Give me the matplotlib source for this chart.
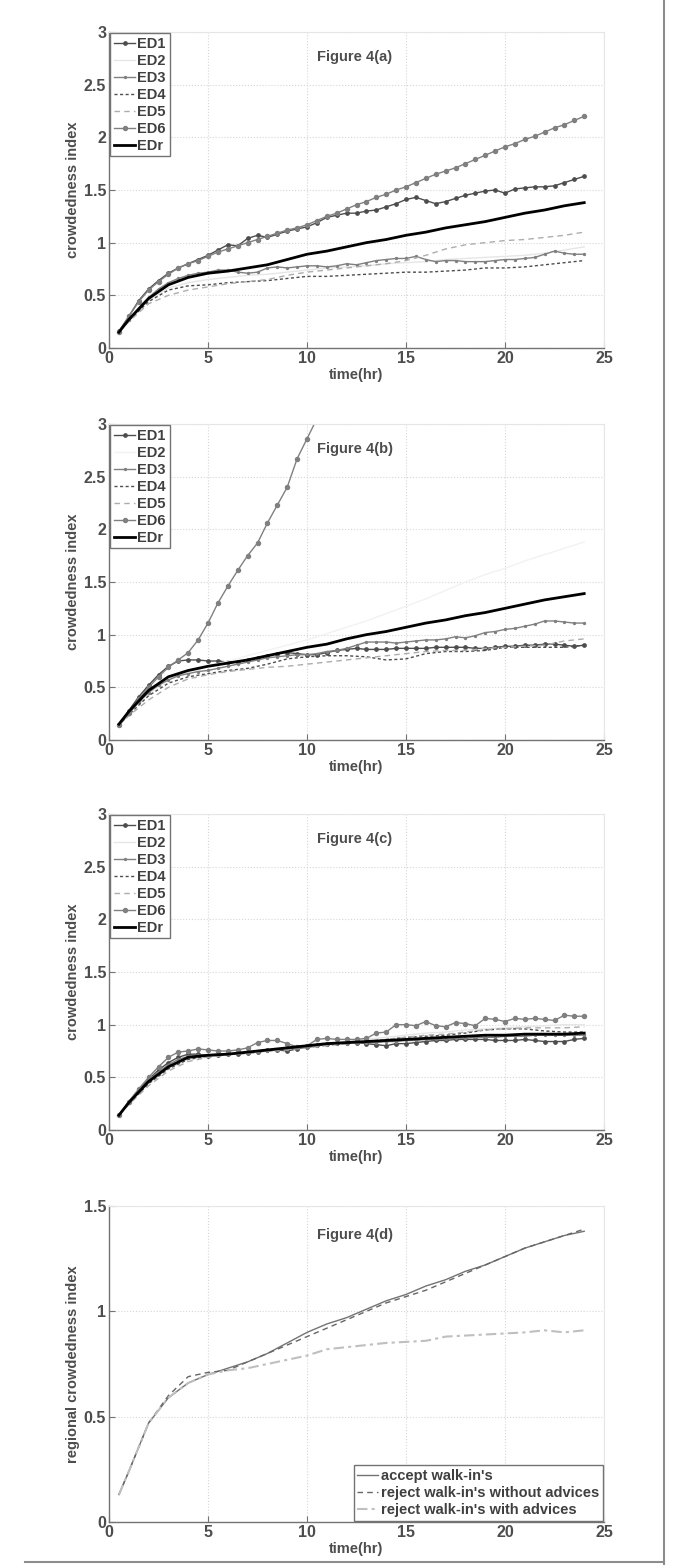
import numpy as np
import matplotlib
matplotlib.use('Agg')
import matplotlib.pyplot as plt
from matplotlib.lines import Line2D

plt.rcParams['font.family'] = ['Liberation Sans', 'DejaVu Sans']
plt.rcParams['font.weight'] = 'bold'

# ---------------- time grids ----------------
t_half = [0.5 * k for k in range(1, 49)]          # 0.5 .. 24 (48 points)
t_hour = [0.5] + list(range(1, 25))               # 0.5, 1 .. 24 (25 points)

labels_ed = ['ED1', 'ED2', 'ED3', 'ED4', 'ED5', 'ED6', 'EDr']

# ---------------- Figure 4(a) ----------------
a_ed1 = [0.16, 0.30, 0.45, 0.56, 0.64, 0.71, 0.76, 0.80, 0.84, 0.88, 0.93, 0.98,
         0.97, 1.04, 1.07, 1.05, 1.08, 1.11, 1.13, 1.15, 1.19, 1.24, 1.26, 1.28,
         1.28, 1.30, 1.31, 1.34, 1.37, 1.41, 1.43, 1.40, 1.37, 1.39, 1.42, 1.45,
         1.47, 1.49, 1.50, 1.47, 1.51, 1.52, 1.53, 1.53, 1.54, 1.57, 1.60, 1.63]
a_ed3 = [0.15, 0.27, 0.38, 0.48, 0.56, 0.62, 0.66, 0.69, 0.71, 0.72, 0.74, 0.74,
         0.72, 0.71, 0.72, 0.76, 0.77, 0.76, 0.77, 0.78, 0.78, 0.77, 0.78, 0.80,
         0.79, 0.81, 0.83, 0.84, 0.85, 0.85, 0.87, 0.84, 0.82, 0.83, 0.83, 0.82,
         0.82, 0.82, 0.83, 0.84, 0.84, 0.85, 0.86, 0.89, 0.92, 0.90, 0.89, 0.89]
a_ed6 = [0.15, 0.30, 0.44, 0.55, 0.63, 0.70, 0.76, 0.80, 0.83, 0.87, 0.91, 0.94,
         0.97, 1.00, 1.03, 1.06, 1.09, 1.12, 1.14, 1.17, 1.21, 1.25, 1.28, 1.32,
         1.36, 1.39, 1.43, 1.46, 1.50, 1.53, 1.57, 1.61, 1.65, 1.68, 1.71, 1.75,
         1.79, 1.83, 1.87, 1.91, 1.94, 1.98, 2.01, 2.05, 2.09, 2.12, 2.16, 2.20]
a_ed2 = [0.15, 0.26, 0.45, 0.57, 0.62, 0.65, 0.67, 0.69, 0.70, 0.72, 0.74, 0.76,
         0.77, 0.78, 0.80, 0.81, 0.82, 0.84, 0.85, 0.86, 0.87, 0.88, 0.90, 0.93, 0.96]
a_ed4 = [0.15, 0.26, 0.44, 0.55, 0.59, 0.60, 0.62, 0.63, 0.64, 0.66, 0.68, 0.68,
         0.69, 0.70, 0.71, 0.72, 0.72, 0.73, 0.74, 0.76, 0.76, 0.77, 0.79, 0.81, 0.83]
a_ed5 = [0.15, 0.25, 0.42, 0.50, 0.55, 0.58, 0.61, 0.63, 0.65, 0.69, 0.72, 0.74,
         0.76, 0.78, 0.80, 0.83, 0.88, 0.94, 0.98, 1.00, 1.02, 1.03, 1.05, 1.07, 1.10]
a_edr = [0.15, 0.27, 0.47, 0.60, 0.67, 0.71, 0.73, 0.76, 0.79, 0.84, 0.89, 0.92,
         0.96, 1.00, 1.03, 1.07, 1.10, 1.14, 1.17, 1.20, 1.24, 1.28, 1.31, 1.35, 1.38]

# ---------------- Figure 4(b) ----------------
b_ed1 = [0.14, 0.28, 0.41, 0.52, 0.62, 0.70, 0.75, 0.76, 0.76, 0.75, 0.75, 0.74,
         0.74, 0.76, 0.78, 0.80, 0.82, 0.83, 0.82, 0.81, 0.81, 0.83, 0.85, 0.86,
         0.87, 0.86, 0.86, 0.86, 0.87, 0.87, 0.87, 0.87, 0.88, 0.88, 0.88, 0.88,
         0.87, 0.87, 0.88, 0.89, 0.89, 0.90, 0.90, 0.91, 0.91, 0.90, 0.89, 0.90]
b_ed3 = [0.14, 0.25, 0.36, 0.45, 0.52, 0.57, 0.61, 0.63, 0.65, 0.66, 0.68, 0.70,
         0.72, 0.74, 0.76, 0.78, 0.79, 0.80, 0.81, 0.81, 0.82, 0.84, 0.85, 0.87,
         0.90, 0.93, 0.93, 0.93, 0.92, 0.93, 0.94, 0.95, 0.95, 0.96, 0.98, 0.97,
         0.99, 1.02, 1.03, 1.05, 1.06, 1.08, 1.10, 1.13, 1.13, 1.12, 1.11, 1.11]
b_ed6 = [0.14, 0.26, 0.39, 0.50, 0.60, 0.69, 0.76, 0.83, 0.95, 1.11, 1.30, 1.46,
         1.61, 1.75, 1.87, 2.06, 2.23, 2.40, 2.67, 2.86, 3.05] + [np.nan] * 27
b_ed2 = [0.14, 0.25, 0.43, 0.57, 0.64, 0.70, 0.75, 0.80, 0.85, 0.90, 0.95, 1.01,
         1.07, 1.13, 1.20, 1.27, 1.34, 1.42, 1.50, 1.57, 1.63, 1.70, 1.76, 1.82, 1.88]
b_ed4 = [0.14, 0.24, 0.42, 0.54, 0.60, 0.63, 0.66, 0.68, 0.72, 0.77, 0.79, 0.80,
         0.80, 0.79, 0.76, 0.77, 0.82, 0.84, 0.84, 0.85, 0.88, 0.88, 0.88, 0.88, 0.90]
b_ed5 = [0.14, 0.23, 0.38, 0.50, 0.58, 0.62, 0.65, 0.67, 0.69, 0.70, 0.72, 0.74,
         0.76, 0.78, 0.80, 0.82, 0.84, 0.85, 0.85, 0.87, 0.88, 0.89, 0.90, 0.94, 0.96]
b_edr = [0.15, 0.27, 0.47, 0.60, 0.66, 0.70, 0.73, 0.76, 0.80, 0.84, 0.88, 0.91,
         0.96, 1.00, 1.03, 1.07, 1.11, 1.14, 1.18, 1.21, 1.25, 1.29, 1.33, 1.36, 1.39]

# ---------------- Figure 4(c) ----------------
c_ed1 = [0.14, 0.27, 0.38, 0.48, 0.57, 0.64, 0.69, 0.72, 0.72, 0.70, 0.71, 0.72,
         0.72, 0.73, 0.74, 0.76, 0.76, 0.75, 0.77, 0.79, 0.81, 0.82, 0.83, 0.83,
         0.83, 0.82, 0.81, 0.80, 0.82, 0.82, 0.83, 0.84, 0.85, 0.85, 0.86, 0.86,
         0.86, 0.86, 0.85, 0.85, 0.85, 0.86, 0.85, 0.84, 0.84, 0.84, 0.86, 0.87]
c_ed3 = [0.14, 0.26, 0.37, 0.47, 0.55, 0.62, 0.67, 0.70, 0.71, 0.71, 0.72, 0.72,
         0.73, 0.73, 0.74, 0.75, 0.76, 0.77, 0.78, 0.78, 0.80, 0.81, 0.82, 0.82,
         0.83, 0.83, 0.83, 0.84, 0.84, 0.85, 0.85, 0.86, 0.86, 0.86, 0.87, 0.87,
         0.88, 0.88, 0.88, 0.89, 0.89, 0.89, 0.90, 0.90, 0.90, 0.90, 0.90, 0.90]
c_ed6 = [0.14, 0.27, 0.39, 0.50, 0.60, 0.69, 0.74, 0.75, 0.77, 0.76, 0.75, 0.75,
         0.76, 0.78, 0.83, 0.85, 0.85, 0.82, 0.79, 0.80, 0.86, 0.87, 0.86, 0.86,
         0.86, 0.87, 0.92, 0.93, 1.00, 1.00, 0.99, 1.03, 0.99, 0.98, 1.02, 1.01,
         0.99, 1.06, 1.05, 1.03, 1.06, 1.05, 1.06, 1.05, 1.04, 1.09, 1.08, 1.08]
c_ed2 = [0.14, 0.25, 0.44, 0.58, 0.67, 0.70, 0.72, 0.74, 0.76, 0.78, 0.80, 0.82,
         0.84, 0.86, 0.88, 0.90, 0.92, 0.93, 0.95, 0.96, 0.97, 0.98, 0.99, 1.00, 1.00]
c_ed4 = [0.14, 0.25, 0.44, 0.58, 0.67, 0.70, 0.72, 0.73, 0.75, 0.77, 0.79, 0.81,
         0.82, 0.84, 0.86, 0.88, 0.89, 0.90, 0.92, 0.95, 0.96, 0.96, 0.94, 0.93, 0.93]
c_ed5 = [0.14, 0.24, 0.42, 0.56, 0.65, 0.69, 0.71, 0.73, 0.75, 0.76, 0.78, 0.80,
         0.82, 0.84, 0.86, 0.88, 0.90, 0.91, 0.93, 0.95, 0.96, 0.97, 0.97, 0.97, 0.98]
c_edr = [0.14, 0.26, 0.46, 0.60, 0.69, 0.71, 0.72, 0.74, 0.76, 0.78, 0.80, 0.82,
         0.83, 0.84, 0.85, 0.86, 0.87, 0.88, 0.89, 0.90, 0.90, 0.91, 0.91, 0.91, 0.92]

# ---------------- Figure 4(d) ----------------
labels_d = ["accept walk-in's", "reject walk-in's without advices",
            "reject walk-in's with advices"]
d_accept = [0.13, 0.24, 0.47, 0.59, 0.66, 0.70, 0.73, 0.76, 0.80, 0.85, 0.90, 0.94,
            0.97, 1.01, 1.05, 1.08, 1.12, 1.15, 1.19, 1.22, 1.26, 1.30, 1.33, 1.36, 1.38]
d_without = [0.13, 0.24, 0.47, 0.60, 0.69, 0.71, 0.72, 0.76, 0.80, 0.84, 0.88, 0.92,
             0.96, 1.00, 1.04, 1.07, 1.10, 1.14, 1.18, 1.22, 1.26, 1.30, 1.33, 1.36, 1.39]
d_with = [0.13, 0.24, 0.47, 0.59, 0.66, 0.70, 0.72, 0.73, 0.75, 0.77, 0.79, 0.82,
          0.83, 0.84, 0.85, 0.855, 0.86, 0.88, 0.885, 0.89, 0.895, 0.90, 0.91, 0.90, 0.91]

x_ticks = [0, 5, 10, 15, 20, 25]
y_ticks_abc = [0, 0.5, 1, 1.5, 2, 2.5, 3]
y_ticklabels_abc = ['0', '0.5', '1', '1.5', '2', '2.5', '3']
y_ticks_d = [0, 0.5, 1, 1.5]
y_ticklabels_d = ['0', '0.5', '1', '1.5']

FS = 10.5
TFS = 11.5
W, H = 696, 1567
fig = plt.figure(figsize=(W / 100, H / 100), dpi=100)
fig.patch.set_facecolor('white')

def make_axes(top_px):
    left = 109 / W
    width = 495 / W
    height = 316 / H
    bottom = 1 - (top_px + 316) / H
    ax = fig.add_axes([left, bottom, width, height])
    return ax

def style_axes(ax, yticks, yticklabels, ymax, ylabel):
    ax.set_xlim(0, 25)
    ax.set_ylim(0, ymax)
    ax.set_xticks(x_ticks)
    ax.set_xticklabels([str(v) for v in x_ticks], fontsize=TFS, fontweight='bold', color='0.3')
    ax.set_yticks(yticks)
    ax.set_yticklabels(yticklabels, fontsize=TFS, fontweight='bold', color='0.3')
    ax.tick_params(direction='in', length=4, width=0.8, color='0.45', pad=2,
                   top=False, right=False)
    ax.grid(True, linestyle=':', color='0.84', linewidth=0.8)
    for s in ['left', 'bottom']:
        ax.spines[s].set_color('0.45')
        ax.spines[s].set_linewidth(1.0)
    for s in ['top', 'right']:
        ax.spines[s].set_color('0.9')
        ax.spines[s].set_linewidth(0.8)
    ax.set_xlabel('time(hr)', fontsize=FS, fontweight='bold', color='0.3')
    ax.xaxis.set_label_coords(0.5, -0.062)
    ax.set_ylabel(ylabel, fontsize=FS, fontweight='bold', color='0.3')
    ax.yaxis.set_label_coords(-0.058, 0.5)

def ed_panel(top_px, ed1, ed2, ed3, ed4, ed5, ed6, edr, title, ed2_color):
    ax = make_axes(top_px)
    h1, = ax.plot(t_half, ed1, '-', color='0.3', lw=1.0, marker='o', ms=2.4)
    h2, = ax.plot(t_hour, ed2, '-', color=ed2_color, lw=1.0)
    h3, = ax.plot(t_half, ed3, '-', color='0.5', lw=1.0, marker='o', ms=1.4)
    h4, = ax.plot(t_hour, ed4, color='0.3', lw=1.0, dashes=(2.2, 1.8))
    h5, = ax.plot(t_hour, ed5, color='0.68', lw=1.0, dashes=(4, 3))
    h6, = ax.plot(t_half, ed6, '-', color='0.5', lw=1.0, marker='o', ms=2.9)
    h7, = ax.plot(t_hour, edr, '-', color='black', lw=2.0)
    style_axes(ax, y_ticks_abc, y_ticklabels_abc, 3, 'crowdedness index')
    ax.text(10.5, 2.76, title, fontsize=FS, fontweight='bold', color='0.3',
            ha='left', va='center')
    leg = ax.legend([h1, h2, h3, h4, h5, h6, h7], labels_ed, loc='upper left',
                    borderaxespad=0.1, fontsize=FS, handlelength=1.45,
                    handletextpad=0.15, labelspacing=0.2, borderpad=0.25,
                    numpoints=1, fancybox=False, framealpha=1)
    leg.get_frame().set_edgecolor('0.45')
    leg.get_frame().set_linewidth(1.0)
    for txt in leg.get_texts():
        txt.set_fontweight('bold')
        txt.set_color('0.25')
    return ax

ed_panel(32, a_ed1, a_ed2, a_ed3, a_ed4, a_ed5, a_ed6, a_edr, 'Figure 4(a)', '0.9')
ed_panel(424, b_ed1, b_ed2, b_ed3, b_ed4, b_ed5, b_ed6, b_edr, 'Figure 4(b)', '0.95')
ed_panel(814, c_ed1, c_ed2, c_ed3, c_ed4, c_ed5, c_ed6, c_edr, 'Figure 4(c)', '0.9')

# panel (d)
axd = make_axes(1206)
g1, = axd.plot(t_hour, d_accept, '-', color='0.45', lw=1.0)
g2, = axd.plot(t_hour, d_without, color='0.4', lw=1.0, dashes=(4, 3))
g3, = axd.plot(t_hour, d_with, color='0.75', lw=1.5, dashes=(5, 2, 1.5, 2))
style_axes(axd, y_ticks_d, y_ticklabels_d, 1.5, 'regional crowdedness index')
axd.text(10.5, 1.36, 'Figure 4(d)', fontsize=FS, fontweight='bold', color='0.3',
         ha='left', va='center')
legd = axd.legend([g1, g2, g3], labels_d, loc='lower right', borderaxespad=0.1,
                  fontsize=FS, handlelength=1.45, handletextpad=0.15,
                  labelspacing=0.2, borderpad=0.25, fancybox=False, framealpha=1)
legd.get_frame().set_edgecolor('0.45')
legd.get_frame().set_linewidth(1.0)
for txt in legd.get_texts():
    txt.set_fontweight('bold')
    txt.set_color('0.25')

# page border lines
fig.add_artist(Line2D([664 / W, 664 / W], [0.002, 1.0], transform=fig.transFigure,
                      color='0.55', lw=1.5))
fig.add_artist(Line2D([25 / W, 664 / W], [1 - 1562 / H, 1 - 1562 / H],
                      transform=fig.transFigure, color='0.55', lw=1.5))

fig.savefig('out.png', dpi=100, facecolor='white')
